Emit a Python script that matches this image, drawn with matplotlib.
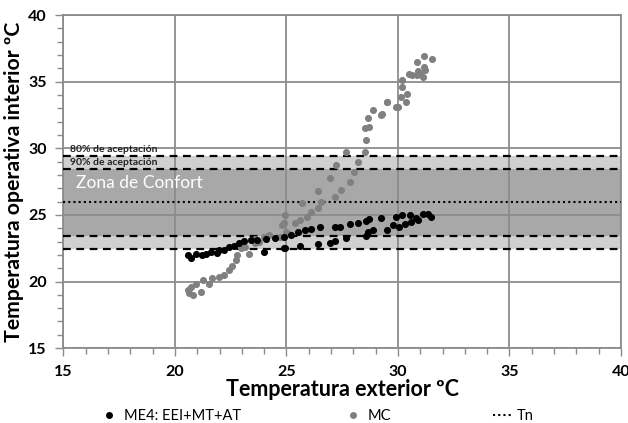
import matplotlib
matplotlib.use("Agg")
import matplotlib.pyplot as plt
from matplotlib.lines import Line2D

# Datos
me4_x = [20.57, 20.7, 20.94, 21.2, 21.39, 21.6, 21.9, 21.98, 22.2, 22.42, 22.64, 22.87, 23.1, 23.4,
         23.7, 24.1, 24.5, 24.9, 25.2, 25.53, 25.83, 26.12, 26.5, 27.16, 27.4, 27.83, 28.2, 28.57,
         28.7, 29.24, 29.9, 30.2, 30.56, 30.83, 31.1, 31.33, 31.5,
         24.0, 24.87, 24.94, 25.6, 26.42, 26.94, 27.16, 27.68, 28.57, 28.64, 28.87, 29.53, 29.76,
         30.05, 30.3, 30.6, 30.9]
me4_y = [21.98, 21.74, 22.1, 21.98, 22.1, 22.23, 22.15, 22.36, 22.4, 22.6, 22.7, 22.86, 23.05, 23.1,
         23.15, 23.2, 23.3, 23.35, 23.5, 23.73, 23.86, 23.91, 24.1, 24.1, 24.1, 24.29, 24.4, 24.56,
         24.66, 24.74, 24.86, 24.98, 24.98, 24.8, 25.1, 25.1, 24.86,
         22.23, 22.48, 22.48, 22.65, 22.8, 22.86, 23.05, 23.23, 23.4, 23.73, 23.86, 23.9, 24.23,
         24.1, 24.35, 24.5, 24.6]

mc_x = [20.57, 20.64, 20.8, 20.7, 21.16, 20.94, 21.24, 21.53, 21.68, 21.98, 22.2, 22.42, 22.57,
        22.72, 22.79, 22.94, 23.16, 23.3, 23.6, 23.6, 23.75, 23.98, 24.2, 24.72, 24.8, 24.94, 25.0,
        25.1, 25.38, 25.6, 25.68, 24.87, 25.9, 26.12, 26.42, 26.42, 26.57, 26.94, 27.16, 27.24,
        27.46, 27.68, 27.83, 28.05, 28.2, 28.5, 28.57, 28.5, 28.72, 28.64, 28.87, 29.24, 29.27,
        29.5, 29.53, 29.9, 29.98, 30.12, 30.35, 30.2, 30.42, 30.2, 30.5, 30.65, 30.87, 31.0, 31.1,
        31.16, 31.2, 30.87, 31.16, 31.53, 30.9]
mc_y = [19.35, 19.1, 18.98, 19.6, 19.2, 19.85, 20.1, 19.85, 20.23, 20.36, 20.5, 20.85, 21.2,
        21.6, 21.98, 22.48, 22.6, 22.1, 22.86, 23.2, 23.0, 23.35, 23.5, 23.35, 24.23, 24.98, 23.7,
        23.6, 24.36, 24.6, 25.86, 24.36, 24.86, 25.23, 25.5, 26.81, 26.0, 27.74, 26.36, 28.74,
        26.86, 29.73, 27.49, 28.24, 28.99, 29.73, 30.62, 31.49, 31.61, 32.25, 32.87, 32.5, 32.57,
        33.5, 33.5, 33.1, 33.1, 33.87, 33.5, 34.6, 34.1, 35.1, 35.6, 35.5, 35.5, 35.6, 35.37,
        36.1, 35.9, 36.5, 36.9, 36.67, 35.8]

tn = 25.95
lim_90 = [23.45, 28.45]
lim_80 = [22.45, 29.45]

plt.rcParams['font.family'] = ['Lato', 'DejaVu Sans']

fig = plt.figure(figsize=(6.28, 4.23), dpi=100)
ax = fig.add_axes([0.1011, 0.177, 0.8877, 0.7875])

# Bandas de confort
ax.axhspan(lim_80[0], lim_80[1], color='#d0d0d0', zorder=0, lw=0)
ax.axhspan(lim_90[0], lim_90[1], color='#a8a8a8', zorder=0.5, lw=0)
for v in lim_80 + lim_90:
    ax.axhline(v, color='black', lw=1.6, ls=(0, (3.5, 2.5)), zorder=3)
ax.axhline(tn, color='black', lw=1.5, ls=(0, (1, 1.5)), zorder=3)

ax.grid(True, color='#8c8c8c', lw=1.3, zorder=1)
ax.set_axisbelow(False)
for gl in ax.get_xgridlines() + ax.get_ygridlines():
    gl.set_zorder(1)

ax.scatter(mc_x, mc_y, s=26, color='#808080', zorder=4, lw=0)
ax.scatter(me4_x, me4_y, s=26, color='black', zorder=5, lw=0)

ax.text(15.3, 29.9, '80% de aceptación', fontsize=7.5, fontweight='bold', color='#222222',
        va='center', zorder=6)
ax.text(15.3, 28.9, '90% de aceptación', fontsize=7.5, fontweight='bold', color='#222222',
        va='center', zorder=6)
ax.text(15.55, 27.4, 'Zona de Confort', fontsize=12.5, color='white', va='center', zorder=6)

ax.set_xlim(15, 40)
ax.set_ylim(15, 40)
ax.set_xticks(range(15, 41, 5))
ax.set_yticks(range(15, 41, 5))
ax.set_xticks(range(15, 41), minor=True)
ax.set_yticks(range(15, 41), minor=True)
ax.tick_params(which='both', direction='out', color='#8c8c8c', width=1)
ax.tick_params(which='major', length=6, labelsize=11.5, pad=6)
ax.tick_params(which='minor', length=4)
for lab in ax.get_xticklabels() + ax.get_yticklabels():
    lab.set_fontweight('bold')
for s in ax.spines.values():
    s.set_color('#8c8c8c')
    s.set_linewidth(1.3)

ax.set_xlabel('Temperatura exterior ºC', fontsize=15.5, fontweight='bold', labelpad=0)
ax.set_ylabel('Temperatura operativa interior ºC', fontsize=15.3, fontweight='bold', labelpad=3)

handles = [Line2D([], [], ls='none', marker='o', ms=4, color='black'),
           Line2D([], [], ls='none', marker='o', ms=4, color='#808080'),
           Line2D([], [], ls=(0, (1, 1.5)), lw=1.5, color='black')]
fig.legend(handles, ['ME4: EEI+MT+AT', 'MC', 'Tn'], loc='center left',
           bbox_to_anchor=(0.158, 0.016), ncol=3, frameon=False,
           fontsize=10.5, handlelength=1.4, handletextpad=0.27, columnspacing=7.0,
           borderpad=0, borderaxespad=0)

fig.savefig('out.png', dpi=100)
